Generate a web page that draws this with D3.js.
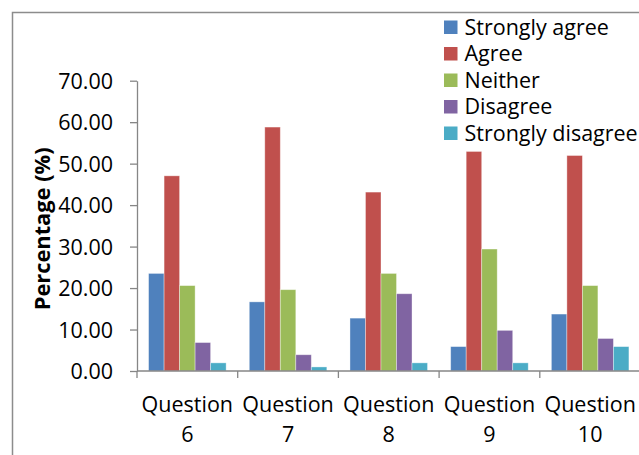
<!DOCTYPE html>
<html>
<head>
<meta charset="utf-8">
<script src="https://cdn.jsdelivr.net/npm/d3@7"></script>
<style>
  html, body { margin: 0; padding: 0; background: #fff; }
  svg { display: block; font-family: "Open Sans", sans-serif; }
</style>
</head>
<body>
<svg id="chart" width="639" height="455"></svg>
<script>
// Survey responses, percent of 102 respondents per question
const categories = ["Question 6", "Question 7", "Question 8", "Question 9", "Question 10"];
const seriesNames = ["Strongly agree", "Agree", "Neither", "Disagree", "Strongly disagree"];
const stronglyAgree    = [23.53, 16.67, 12.75,  5.88, 13.73];
const agree            = [47.06, 58.82, 43.14, 52.94, 51.96];
const neither          = [20.59, 19.61, 23.53, 29.41, 20.59];
const disagree         = [ 6.86,  3.92, 18.63,  9.80,  7.84];
const stronglyDisagree = [ 1.96,  0.98,  1.96,  1.96,  5.88];
const yTicks = [0, 10, 20, 30, 40, 50, 60, 70];
const colors = ["#4F81BD", "#C0504D", "#9BBB59", "#8064A2", "#4BACC6"];

const seriesValues = [stronglyAgree, agree, neither, disagree, stronglyDisagree];

const svg = d3.select("#chart");
const axisColor = "#868686";

// Outer chart frame
svg.append("rect")
  .attr("x", 12.5).attr("y", 12.5)
  .attr("width", 640).attr("height", 460)
  .attr("fill", "none")
  .attr("stroke", "#8c8c8c")
  .attr("stroke-width", 1.5);

const plot = { left: 137, right: 640.5, top: 80.7, bottom: 371 };

const x0 = d3.scaleBand()
  .domain(categories)
  .range([plot.left, plot.right])
  .padding(0);

const groupPad = x0.bandwidth() * 0.115;
const x1 = d3.scaleBand()
  .domain(seriesNames)
  .range([groupPad, x0.bandwidth() - groupPad])
  .padding(0);

const y = d3.scaleLinear()
  .domain([0, 70])
  .range([plot.bottom, plot.top]);

// Bars
const groups = svg.append("g").selectAll("g")
  .data(categories)
  .join("g")
  .attr("transform", d => `translate(${x0(d)},0)`);

groups.selectAll("rect")
  .data((c, i) => seriesNames.map((s, k) => ({ s, k, v: seriesValues[k][i] })))
  .join("rect")
  .attr("x", d => x1(d.s))
  .attr("width", x1.bandwidth())
  .attr("y", d => y(d.v))
  .attr("height", d => y(0) - y(d.v))
  .attr("fill", d => colors[d.k])
  .attr("stroke", "rgba(255,255,255,0.45)")
  .attr("stroke-width", 0.8);

// Y axis
const yAxis = svg.append("g")
  .attr("transform", `translate(${plot.left},0)`)
  .call(d3.axisLeft(y).tickValues(yTicks).tickFormat(d3.format(".2f")).tickSize(7).tickSizeOuter(0).tickPadding(17));
yAxis.select(".domain").attr("stroke", axisColor).attr("stroke-width", 1.3);
yAxis.selectAll(".tick line").attr("stroke", axisColor).attr("stroke-width", 1.3);
yAxis.selectAll(".tick text")
  .attr("fill", "#000")
  .attr("font-family", "Open Sans, sans-serif")
  .attr("font-size", 21.5)
  .attr("dy", "0.35em");

// X axis: ticks on category boundaries
const xAxisG = svg.append("g").attr("transform", `translate(0,${plot.bottom})`);
xAxisG.append("line")
  .attr("x1", plot.left).attr("x2", plot.right)
  .attr("stroke", axisColor).attr("stroke-width", 1.3);
const boundaries = categories.map(c => x0(c)).concat([plot.right]);
xAxisG.selectAll("line.tick")
  .data(boundaries)
  .join("line")
  .attr("class", "tick")
  .attr("x1", d => d).attr("x2", d => d)
  .attr("y1", 0).attr("y2", 7)
  .attr("stroke", axisColor).attr("stroke-width", 1.3);

const xLabels = xAxisG.selectAll("text.cat")
  .data(categories)
  .join("text")
  .attr("class", "cat")
  .attr("text-anchor", "middle")
  .attr("font-size", 21.5)
  .attr("fill", "#000")
  .attr("x", d => x0(d) + x0.bandwidth() / 2);
xLabels.each(function(d) {
  const parts = d.split(" ");
  const t = d3.select(this);
  t.append("tspan").attr("x", x0(d) + x0.bandwidth() / 2).attr("y", 40.5).text(parts[0]);
  t.append("tspan").attr("x", x0(d) + x0.bandwidth() / 2).attr("y", 70.5).text(parts[1]);
});

// Y axis title
svg.append("text")
  .attr("transform", `translate(49.5,${(plot.top + plot.bottom) / 2 + 3}) rotate(-90)`)
  .attr("text-anchor", "middle")
  .attr("font-size", 21.8)
  .attr("font-weight", "bold")
  .attr("fill", "#000")
  .text("Percentage (%)");

// Legend
const legend = svg.append("g").attr("transform", "translate(444,27)");
const items = legend.selectAll("g")
  .data(seriesNames)
  .join("g")
  .attr("transform", (d, i) => `translate(0,${i * 26.5})`);
items.append("rect")
  .attr("x", 0).attr("y", -6.5)
  .attr("width", 13.5).attr("height", 13.5)
  .attr("fill", (d, i) => colors[i]);
items.append("text")
  .attr("x", 20.5)
  .attr("dy", "0.35em")
  .attr("font-size", 21.5)
  .attr("fill", "#000")
  .text(d => d);
</script>
</body>
</html>
